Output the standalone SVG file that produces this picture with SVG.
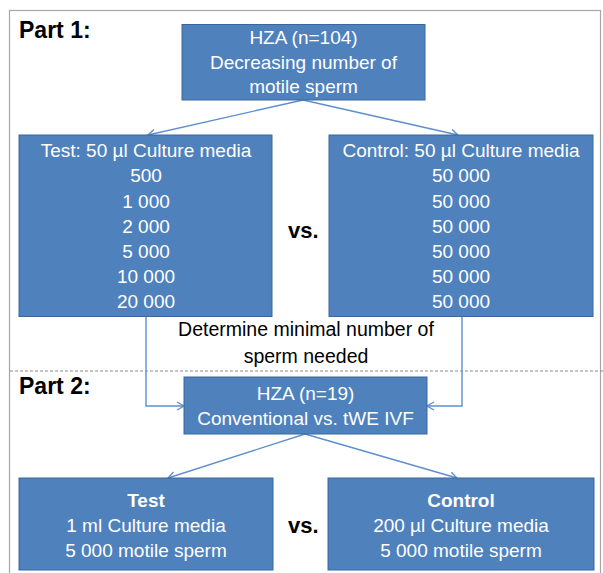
<svg xmlns="http://www.w3.org/2000/svg" width="603" height="573" viewBox="0 0 603 573">
<defs>
<style>
.box{fill:#4f81bd;stroke:#3a679c;stroke-width:1}
.bt{font-family:"Liberation Sans",Arial,sans-serif;font-size:19px;fill:#ffffff;text-anchor:middle}
.bold{font-weight:bold}
.lbl{font-family:"Liberation Sans",Arial,sans-serif;font-weight:bold;fill:#000000}
.note{font-family:"Liberation Sans",Arial,sans-serif;font-size:19.5px;fill:#000000;text-anchor:middle}
.conn{fill:none;stroke:#5f8fcd;stroke-width:1.4;marker-end:url(#arr)}
</style>
<marker id="arr" markerUnits="userSpaceOnUse" markerWidth="12" markerHeight="12" refX="8" refY="5" orient="auto">
<path d="M1,1 L8,5 L1,9" fill="none" stroke="#5f8fcd" stroke-width="1.4"/>
</marker>
</defs>
<rect x="0" y="0" width="603" height="573" fill="#ffffff"/>
<rect x="9.5" y="10.5" width="591" height="580" fill="none" stroke="#a6a6a6" stroke-width="1.2"/>
<line x1="10" y1="371" x2="603" y2="371" stroke="#8c8c8c" stroke-width="1" stroke-dasharray="3,2"/>
<text class="lbl" x="19" y="38" font-size="23">Part 1:</text>
<text class="lbl" x="19" y="394" font-size="23">Part 2:</text>
<g id="connectors">
<line class="conn" x1="303" y1="100" x2="148" y2="135"/>
<line class="conn" x1="303" y1="100" x2="458" y2="135"/>
<polyline class="conn" points="146,317 146,406 184,406"/>
<polyline class="conn" points="462,317 462,406 427,406"/>
<line class="conn" x1="305" y1="434" x2="168" y2="478"/>
<line class="conn" x1="305" y1="434" x2="457" y2="478"/>
</g>
<g id="hza104">
<rect class="box" x="182" y="24.5" width="243" height="75.5"/>
<text class="bt" x="303.5" y="44">HZA (n=104)</text>
<text class="bt" x="303.5" y="68.5">Decreasing number of</text>
<text class="bt" x="303.5" y="93">motile sperm</text>
</g>
<g id="test1">
<rect class="box" x="19" y="135" width="253" height="181.5"/>
<text class="bt" x="146" y="157">Test: 50 µl Culture media</text>
<text class="bt" x="146" y="182.3">500</text>
<text class="bt" x="146" y="207.5">1 000</text>
<text class="bt" x="146" y="232.7">2 000</text>
<text class="bt" x="146" y="257.8">5 000</text>
<text class="bt" x="146" y="283">10 000</text>
<text class="bt" x="146" y="308">20 000</text>
</g>
<g id="vs1"><text class="lbl" x="288" y="238" font-size="22">vs.</text></g>
<g id="control1">
<rect class="box" x="329" y="135" width="264" height="181.5"/>
<text class="bt" x="461" y="157">Control: 50 µl Culture media</text>
<text class="bt" x="461" y="182.3">50 000</text>
<text class="bt" x="461" y="207.5">50 000</text>
<text class="bt" x="461" y="232.7">50 000</text>
<text class="bt" x="461" y="257.8">50 000</text>
<text class="bt" x="461" y="283">50 000</text>
<text class="bt" x="461" y="308">50 000</text>
</g>
<g id="note">
<text class="note" x="306" y="336">Determine minimal number of</text>
<text class="note" x="306" y="362.5">sperm needed</text>
</g>
<g id="hza19">
<rect class="box" x="184" y="377" width="243" height="57"/>
<text class="bt" x="305.5" y="400">HZA (n=19)</text>
<text class="bt" x="305.5" y="425">Conventional vs. tWE IVF</text>
</g>
<g id="test2">
<rect class="box" x="19" y="478" width="254" height="92"/>
<text class="bt bold" x="146" y="506.5">Test</text>
<text class="bt" x="146" y="531.5">1 ml Culture media</text>
<text class="bt" x="146" y="557">5 000 motile sperm</text>
</g>
<g id="vs2"><text class="lbl" x="288" y="533" font-size="22">vs.</text></g>
<g id="control2">
<rect class="box" x="328" y="478" width="266" height="92"/>
<text class="bt bold" x="461" y="506.5">Control</text>
<text class="bt" x="461" y="531.5">200 µl Culture media</text>
<text class="bt" x="461" y="557">5 000 motile sperm</text>
</g>
</svg>
